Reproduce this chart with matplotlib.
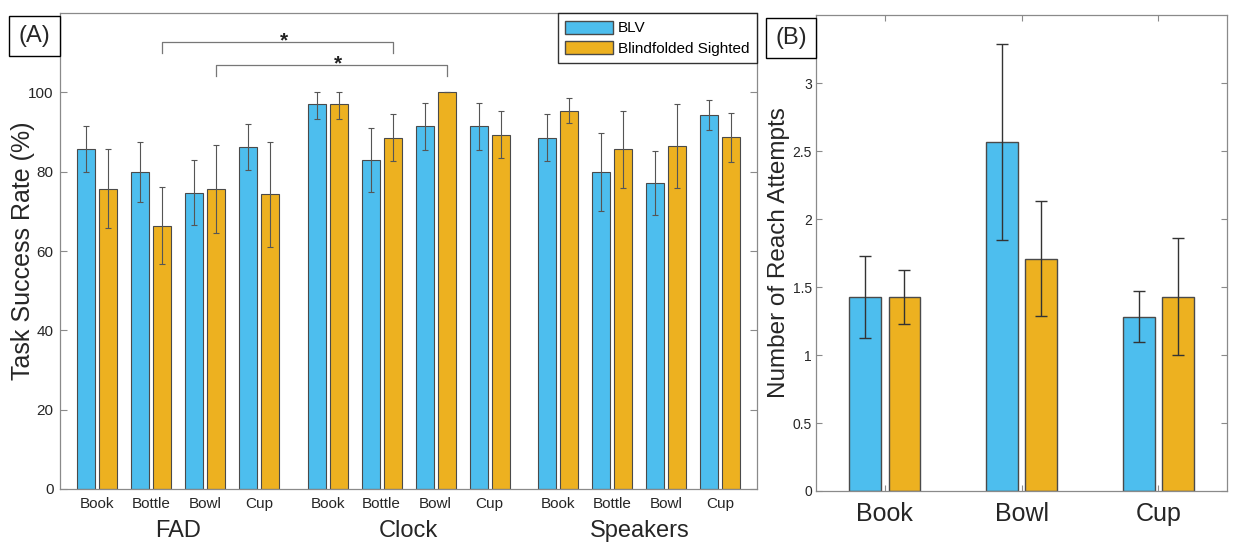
import matplotlib
matplotlib.use('Agg')
import matplotlib.pyplot as plt
import matplotlib.patches as mpatches
import matplotlib.transforms as mtransforms
import numpy as np

plt.rcParams['font.family'] = ['Liberation Sans', 'DejaVu Sans']

# ---- dados painel (A): taxa de sucesso (%) ----
groups = ['FAD', 'Clock', 'Speakers']
items = ['Book', 'Bottle', 'Bowl', 'Cup']

blv_rate = [85.6, 79.9, 74.7, 86.2,
            97.1, 82.9, 91.4, 91.4,
            88.6, 80.0, 77.1, 94.2]
blv_rate_err = [5.8, 7.5, 8.2, 5.7,
                3.8, 8.1, 6.0, 6.0,
                6.0, 9.8, 8.0, 3.8]
bs_rate = [75.7, 66.4, 75.6, 74.3,
           97.1, 88.6, 100.0, 89.3,
           95.4, 85.6, 86.5, 88.7]
bs_rate_err = [9.9, 9.8, 11.0, 13.2,
               3.8, 6.0, 0.0, 5.9,
               3.2, 9.6, 10.6, 6.2]

# comparações significativas (índice da barra i, índice j, altura)
sig_pairs = [(1, 5), (2, 6)]
sig_levels = [112.8, 107.0]

# ---- dados painel (B): tentativas de alcance ----
reach_items = ['Book', 'Bowl', 'Cup']
blv_reach = [1.428, 2.566, 1.282]
blv_reach_err = [0.30, 0.72, 0.185]
bs_reach = [1.428, 1.709, 1.428]
bs_reach_err = [0.20, 0.42, 0.43]

BLUE = '#4DBEEE'
ORANGE = '#EDB120'
EDGE = '#4a4a4a'
SPINE = '#8a8a8a'
TXT = '#262626'

fig = plt.figure(figsize=(12.34, 5.42), dpi=100)

# ===== painel A =====
ax = fig.add_axes([0.0486, 0.0978, 0.5649, 0.8782])
group_step = 4.27
x = np.array([g * group_step + i for g in range(len(groups)) for i in range(len(items))])
w = 0.333
off = 0.204

ax.bar(x - off, blv_rate, w, color=BLUE, edgecolor=EDGE, linewidth=0.8, zorder=2)
ax.bar(x + off, bs_rate, w, color=ORANGE, edgecolor=EDGE, linewidth=0.8, zorder=2)

def clip_err(vals, errs):
    vals = np.array(vals)
    errs = np.array(errs)
    upper = np.minimum(vals + errs, 100) - vals
    return np.vstack([errs, upper])

ax.errorbar(x - off, blv_rate, yerr=clip_err(blv_rate, blv_rate_err), fmt='none',
            ecolor='#555555', elinewidth=0.8, capsize=2.5, capthick=0.8, zorder=3)
ax.errorbar(x + off, bs_rate, yerr=clip_err(bs_rate, bs_rate_err), fmt='none',
            ecolor='#555555', elinewidth=0.8, capsize=2.5, capthick=0.8, zorder=3)

# colchetes de significância
for (i, j), lvl in zip(sig_pairs, sig_levels):
    x1, x2 = x[i] + off, x[j] + off
    ax.plot([x1, x1, x2, x2], [lvl - 2.8, lvl, lvl, lvl - 2.8],
            color='#777777', linewidth=0.9, clip_on=False)
    ax.text((x1 + x2) / 2 + 0.12, lvl - 1.3, '*', ha='center', va='baseline',
            fontsize=15, fontweight='bold', color='#222222')

ax.set_xlim(-0.685, 12.22)
ax.set_ylim(0, 120)
ax.set_yticks([0, 20, 40, 60, 80, 100])
ax.set_xticks(x)
ax.set_xticklabels(items * len(groups), fontsize=11, color=TXT)
ax.tick_params(axis='x', length=0, pad=6)
ax.tick_params(axis='y', direction='in', length=5, labelsize=11, labelcolor=TXT,
               color=SPINE, right=True, pad=4.5)
for s in ax.spines.values():
    s.set_color(SPINE)
    s.set_linewidth(0.9)
ax.set_ylabel('Task Success Rate (%)', fontsize=18, color=TXT)
ax.yaxis.set_label_coords(-0.036, 0.5)

trans = mtransforms.blended_transform_factory(ax.transData, ax.transAxes)
for g, name in enumerate(groups):
    cx = (x[g * 4] + x[g * 4 + 3]) / 2
    ax.text(cx, -0.088, name, transform=trans, ha='center', va='center',
            fontsize=17, color=TXT)

handles = [mpatches.Patch(facecolor=BLUE, edgecolor=EDGE, label='BLV'),
           mpatches.Patch(facecolor=ORANGE, edgecolor=EDGE, label='Blindfolded Sighted')]
leg = ax.legend(handles=handles, loc='upper right', fontsize=11, frameon=True,
                fancybox=False, borderaxespad=0, handlelength=3.1, handleheight=0.95,
                handletextpad=0.35, labelspacing=0.35, borderpad=0.5)
leg.get_frame().set_edgecolor('black')
leg.get_frame().set_linewidth(1.0)

fig.text(34.5 / 1234, 1 - 36 / 542, '(A)', ha='center', va='center', fontsize=17,
         color=TXT, bbox=dict(boxstyle='square,pad=0.4', facecolor='white',
                              edgecolor='black', linewidth=1.0))

# ===== painel B =====
bx = fig.add_axes([0.6613, 0.0941, 0.3330, 0.8782])
xr = np.arange(1, len(reach_items) + 1)
wr = 0.23
offr = 0.144
bx.bar(xr - offr, blv_reach, wr, color=BLUE, edgecolor=EDGE, linewidth=1.0, zorder=2)
bx.bar(xr + offr, bs_reach, wr, color=ORANGE, edgecolor=EDGE, linewidth=1.0, zorder=2)
bx.errorbar(xr - offr, blv_reach, yerr=blv_reach_err, fmt='none', ecolor='#333333',
            elinewidth=1.0, capsize=4, capthick=1.0, zorder=3)
bx.errorbar(xr + offr, bs_reach, yerr=bs_reach_err, fmt='none', ecolor='#333333',
            elinewidth=1.0, capsize=4, capthick=1.0, zorder=3)

bx.set_xlim(0.5, 3.5)
bx.set_ylim(0, 3.5)
bx.set_yticks([0, 0.5, 1, 1.5, 2, 2.5, 3])
bx.set_yticklabels(['0', '0.5', '1', '1.5', '2', '2.5', '3'])
bx.set_xticks(xr)
bx.set_xticklabels(reach_items, fontsize=18, color=TXT)
bx.tick_params(axis='both', direction='in', length=4, color=SPINE, top=True, right=True)
bx.tick_params(axis='y', labelsize=10, labelcolor=TXT, pad=3)
bx.tick_params(axis='x', pad=8)
for s in bx.spines.values():
    s.set_color(SPINE)
    s.set_linewidth(0.9)
bx.set_ylabel('Number of Reach Attempts', fontsize=17.5, color=TXT)
bx.yaxis.set_label_coords(-0.063, 0.5)

fig.text(791 / 1234, 1 - 38 / 542, '(B)', ha='center', va='center', fontsize=17,
         color=TXT, bbox=dict(boxstyle='square,pad=0.4', facecolor='white',
                              edgecolor='black', linewidth=1.0))

fig.savefig('out.png', dpi=100, facecolor='white')
